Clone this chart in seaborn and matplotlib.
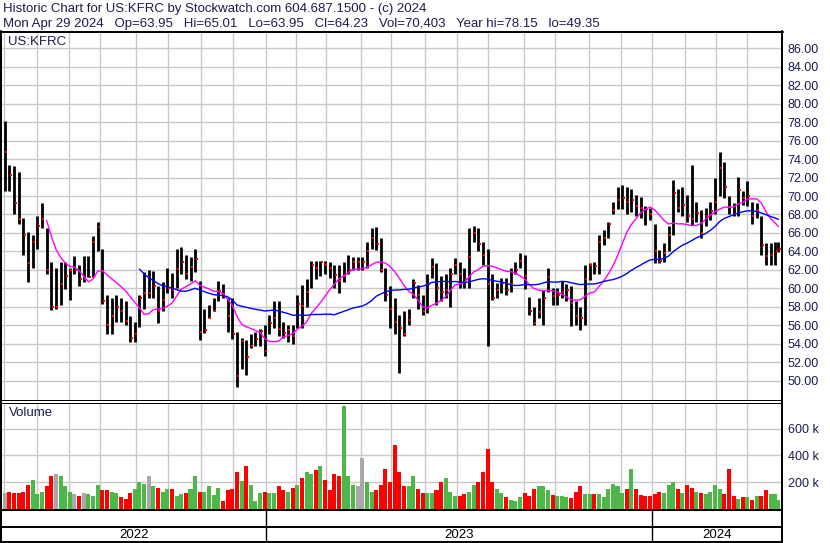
import numpy as np
import pandas as pd
import matplotlib
matplotlib.use("Agg")
import matplotlib.pyplot as plt
from matplotlib.lines import Line2D
import seaborn as sns

sns.set_style("white")
plt.rcParams['font.family'] = ['Liberation Sans', 'DejaVu Sans']

# ---------------- data (each bar summarises 3 trading sessions) ----------------
title_1 = "Historic Chart for US:KFRC by Stockwatch.com 604.687.1500 - (c) 2024"
title_2 = ("Mon Apr 29 2024   Op=63.95   Hi=65.01   Lo=63.95   Cl=64.23   "
           "Vol=70,403   Year hi=78.15   lo=49.35")
symbol = "US:KFRC"
start_date, end_date = "2022-04-29", "2024-04-29"
market_holidays = ["2022-05-30", "2022-06-20", "2022-07-04", "2022-09-05", "2022-11-24",
                   "2022-12-26", "2023-01-02", "2023-01-16", "2023-02-20", "2023-04-07",
                   "2023-05-29", "2023-06-19", "2023-07-04", "2023-09-04", "2023-11-23",
                   "2023-12-25", "2024-01-01", "2024-01-15", "2024-02-19", "2024-03-29"]
sessions_per_bar = 3

high = [78.1, 73.4, 73.2, 72.6, 67.6, 66.1, 65.8, 67.8, 69.2, 66.5,
        62.9, 62.2, 62.9, 62.9, 62.2, 63.5, 62.5, 63.5, 63.5, 65.7,
        67.2, 64.3, 59.3, 59.0, 59.3, 59.0, 58.6, 57.0, 56.4, 59.3,
        61.8, 62.0, 61.9, 60.2, 60.7, 62.2, 61.7, 64.3, 64.5, 63.6,
        63.4, 64.3, 60.8, 57.8, 58.2, 58.9, 60.8, 60.5, 59.0, 59.0,
        55.3, 54.6, 54.4, 55.1, 55.3, 55.6, 56.0, 57.1, 58.6, 58.6,
        56.4, 56.0, 56.0, 59.3, 60.4, 61.0, 63.0, 63.0, 63.0, 63.0,
        62.9, 62.5, 62.5, 62.9, 63.6, 63.4, 63.4, 63.4, 65.0, 66.5,
        66.6, 65.4, 62.2, 60.2, 58.9, 57.1, 57.5, 57.8, 61.0, 60.4,
        59.3, 61.5, 63.3, 62.7, 61.3, 61.5, 62.2, 63.3, 62.9, 62.2,
        66.5, 66.7, 66.5, 65.0, 64.3, 61.5, 60.6, 61.1, 61.1, 62.2,
        62.9, 63.8, 63.6, 59.1, 58.0, 58.9, 59.8, 62.2, 60.0, 60.0,
        60.8, 60.5, 60.2, 58.6, 58.0, 62.5, 62.7, 62.9, 65.8, 66.3,
        67.2, 69.4, 71.0, 71.2, 71.0, 70.8, 70.1, 69.9, 68.9, 68.7,
        67.0, 64.2, 64.9, 66.7, 71.7, 70.8, 71.0, 70.1, 73.4, 69.4,
        68.5, 68.7, 69.3, 72.0, 74.8, 73.7, 70.0, 69.2, 72.1, 70.5,
        71.6, 69.4, 69.2, 67.8, 64.9, 64.9, 65.0, 65.01]
low = [70.5, 70.5, 68.0, 67.0, 63.6, 60.7, 62.2, 64.3, 66.5, 61.5,
       57.7, 57.8, 58.2, 59.9, 58.7, 61.5, 60.2, 60.7, 61.2, 61.2,
       64.0, 58.3, 55.0, 55.0, 56.4, 56.4, 56.0, 54.2, 54.2, 55.8,
       57.8, 59.0, 58.9, 56.2, 57.5, 59.5, 59.0, 60.0, 61.5, 61.0,
       60.8, 61.8, 54.4, 55.2, 56.8, 57.5, 58.6, 58.9, 55.3, 54.5,
       49.35, 51.3, 50.6, 53.5, 53.7, 53.8, 52.7, 55.0, 55.7, 54.8,
       54.6, 54.2, 54.0, 55.7, 55.7, 58.0, 60.0, 61.0, 61.3, 61.6,
       61.1, 60.0, 59.5, 60.7, 61.5, 62.0, 62.0, 62.0, 62.2, 64.3,
       64.2, 61.8, 58.6, 55.7, 55.0, 50.8, 54.8, 56.0, 58.9, 57.8,
       57.1, 57.3, 61.1, 58.2, 58.6, 58.9, 58.0, 61.5, 60.0, 60.0,
       60.0, 65.0, 64.0, 62.5, 53.7, 58.7, 58.9, 59.5, 59.3, 59.6,
       61.5, 62.2, 59.9, 57.1, 56.0, 56.8, 56.0, 59.6, 58.2, 58.2,
       58.9, 58.6, 55.9, 56.0, 55.5, 56.0, 60.9, 61.5, 61.5, 64.7,
       65.4, 68.0, 68.6, 68.6, 68.1, 68.3, 67.8, 67.6, 66.9, 67.4,
       62.7, 62.7, 62.9, 64.0, 65.8, 68.3, 67.8, 67.2, 66.9, 67.2,
       65.4, 66.7, 67.4, 68.0, 70.0, 69.8, 68.0, 67.8, 67.8, 69.0,
       68.9, 67.0, 67.6, 63.6, 62.5, 62.5, 62.5, 63.95]
close = [74.8, 72.3, 69.2, 67.5, 65.8, 62.7, 65.0, 66.7, 67.5, 62.0,
         58.0, 58.0, 60.5, 61.3, 62.0, 62.0, 61.0, 61.0, 61.2, 65.0,
         66.6, 58.6, 56.0, 57.0, 58.0, 57.5, 56.5, 54.6, 55.0, 59.0,
         59.5, 59.5, 60.3, 57.5, 58.7, 60.0, 59.8, 62.1, 62.8, 61.5,
         62.3, 63.2, 55.3, 55.5, 56.8, 57.5, 59.7, 59.4, 57.0, 55.0,
         50.5, 54.3, 52.6, 53.7, 54.5, 55.4, 53.2, 56.2, 56.8, 55.6,
         55.2, 55.5, 54.8, 58.3, 58.1, 59.6, 62.5, 62.2, 62.8, 62.5,
         62.2, 61.4, 60.8, 61.3, 62.0, 62.8, 62.8, 62.8, 64.0, 65.4,
         64.8, 62.0, 59.3, 57.8, 56.3, 55.7, 55.0, 56.6, 60.6, 59.3,
         57.5, 60.5, 62.3, 60.0, 59.6, 59.8, 61.6, 62.5, 61.5, 61.0,
         63.4, 66.0, 64.8, 63.6, 60.5, 59.0, 59.8, 60.6, 59.8, 60.5,
         62.0, 63.0, 61.3, 57.5, 56.2, 57.4, 59.0, 61.2, 59.2, 59.3,
         59.6, 59.8, 58.4, 57.0, 56.8, 61.0, 62.5, 62.4, 65.0, 65.5,
         67.0, 68.5, 69.6, 69.8, 69.3, 69.6, 68.9, 68.7, 68.6, 68.0,
         64.0, 63.0, 63.8, 65.8, 70.3, 68.7, 69.0, 67.8, 67.5, 68.2,
         66.0, 67.8, 68.4, 69.3, 73.0, 71.0, 68.8, 68.1, 70.7, 69.8,
         70.0, 67.8, 68.5, 64.7, 63.5, 63.6, 64.0, 64.23]
volume_k = [120, 130, 120, 120, 130, 180, 220, 110, 130, 170,
            250, 260, 250, 170, 130, 110, 100, 120, 110, 100,
            180, 140, 140, 130, 120, 90, 75, 120, 150, 200,
            190, 250, 170, 160, 130, 150, 150, 100, 110, 120,
            150, 250, 130, 130, 170, 105, 160, 60, 140, 150,
            280, 210, 320, 180, 60, 120, 130, 120, 120, 170,
            140, 130, 160, 180, 230, 280, 260, 290, 320, 220,
            140, 260, 250, 770, 250, 180, 170, 380, 200, 130,
            140, 180, 300, 200, 480, 280, 170, 170, 250, 150,
            120, 120, 120, 140, 200, 230, 130, 100, 100, 110,
            130, 180, 200, 280, 450, 200, 150, 120, 90, 65,
            60, 90, 120, 100, 150, 170, 170, 140, 105, 100,
            95, 90, 80, 130, 170, 110, 110, 110, 110, 90,
            150, 190, 170, 120, 150, 300, 150, 105, 100, 95,
            110, 130, 120, 180, 200, 150, 120, 180, 160, 130,
            120, 110, 130, 180, 150, 110, 300, 100, 75, 90,
            90, 70, 95, 95, 140, 110, 110, 70]
ma_short_sessions, ma_long_sessions = 30, 90
price_ticks = list(range(50, 87, 2))
volume_ticks = [200, 400, 600]

# ---------------- derived ----------------
days = pd.date_range(start_date, end_date,
                     freq=pd.offsets.CustomBusinessDay(holidays=pd.to_datetime(market_holidays)))
n_days = len(days)
nb = len(close)
pos = np.minimum(np.arange(nb) * sessions_per_bar + 1, n_days - 1)
df = pd.DataFrame({"x": pos, "high": high, "low": low, "close": close,
                   "vol": np.array(volume_k) * 1000.0})
df["ma_s"] = df["close"].rolling(ma_short_sessions // sessions_per_bar).mean()
df["ma_l"] = df["close"].rolling(ma_long_sessions // sessions_per_bar).mean()
chg = df["close"].diff().fillna(0)
vcol = np.where(chg > 0, "#4db848", np.where(chg < 0, "#ff0000", "#a8a8a8"))

month_starts = [i for i in range(1, n_days) if days[i].month != days[i - 1].month]
year_starts = [i for i in range(1, n_days) if days[i].year != days[i - 1].year]

# ---------------- figure ----------------
W, H = 830, 543
fig = plt.figure(figsize=(W / 100, H / 100), dpi=100)
fig.patch.set_facecolor("white")


def box(x0, y0, x1, y1):
    return [x0 / W, 1 - y1 / H, (x1 - x0) / W, (y1 - y0) / H]


XL, XR = 2, 781.5
ax_p = fig.add_axes(box(XL, 32, XR, 400))
ax_v = fig.add_axes(box(XL, 402.5, XR, 509))
ax_d = fig.add_axes(box(XL, 509, XR, 541))
xlim = (-0.84, 503.0)
txt = "#1c1c50"
grid_c = "#c8c8c8"

for a in (ax_p, ax_v, ax_d):
    a.set_xlim(*xlim)
    for s in a.spines.values():
        s.set_visible(False)
    a.set_xticks([])
    a.set_facecolor("white")

# price panel
ax_p.set_ylim(47.9, 87.77)
for t in price_ticks:
    ax_p.axhline(t, color=grid_c, lw=1.0, zorder=0)
for m in month_starts:
    ax_p.axvline(m - 0.5, color=grid_c, lw=1.0, zorder=0)
    ax_v.axvline(m - 0.5, color=grid_c, lw=1.0, zorder=0)
ax_p.vlines(df["x"], df["low"], df["high"], color="black", lw=2.0, zorder=2)
sns.scatterplot(data=df, x=df["x"] + 0.9, y="close", marker="s", s=4, color="#ff0000",
                linewidth=0, ax=ax_p, zorder=3, legend=False)
sns.lineplot(data=df, x="x", y="ma_s", color="#ff00ff", lw=1.0, ax=ax_p, zorder=4)
sns.lineplot(data=df, x="x", y="ma_l", color="#0000ff", lw=1.0, ax=ax_p, zorder=4)
ax_p.set_yticks(price_ticks)
ax_p.set_yticklabels([f"{t:.2f}" for t in price_ticks])
ax_p.yaxis.tick_right()
ax_p.tick_params(axis="y", length=0, pad=4.5, labelsize=9, labelcolor=txt)
ax_p.set_xlabel("")
ax_p.set_ylabel("")
ax_p.text(0.008, 0.973, symbol, transform=ax_p.transAxes,
          fontsize=9.5, color=txt, va="center", ha="left")

# volume panel
ax_v.set_ylim(0, 796000)
for t in volume_ticks:
    ax_v.axhline(t * 1000, color=grid_c, lw=1.0, zorder=0)
ax_v.bar(df["x"], df["vol"], width=2.6, color=vcol, linewidth=0, zorder=2)
ax_v.set_yticks([t * 1000 for t in volume_ticks])
ax_v.set_yticklabels([f"{t} k" for t in volume_ticks])
ax_v.yaxis.tick_right()
ax_v.tick_params(axis="y", length=0, pad=4.5, labelsize=9, labelcolor=txt)
ax_v.text(0.009, 0.9, "Volume", transform=ax_v.transAxes, fontsize=9.5, color=txt,
          va="center", ha="left")

# date strip
ax_d.set_ylim(0, 1)
ax_d.set_yticks([])
edges = [xlim[0]] + [y - 0.5 for y in year_starts] + [xlim[1]]
for y in year_starts:
    ax_d.axvline(y - 0.5, color="black", lw=1.0)
for k in range(len(edges) - 1):
    yr = days[0].year + k
    ax_d.text((edges[k] + edges[k + 1]) / 2, 0.2, str(yr), ha="center", va="center",
              fontsize=9.5, color="black")


def hline(y, x0, x1, px):
    fig.add_artist(Line2D([x0 / W, x1 / W], [1 - y / H, 1 - y / H], color="black",
                          lw=px * 0.72, transform=fig.transFigure))


def vline(x, y0, y1, px):
    fig.add_artist(Line2D([x / W, x / W], [1 - y0 / H, 1 - y1 / H], color="black",
                          lw=px * 0.72, transform=fig.transFigure))


hline(31.5, 0, 783, 2)
hline(400, 0, 782, 1)
hline(402.5, 0, 782, 1)
hline(509.5, 0, 782, 2)
hline(527, 0, 782, 2)
hline(541.5, 0, 782, 2)
vline(1, 31, 542, 2)
vline(782, 31, 543, 2)

fig.text(3 / W, 1 - 12 / H, title_1, fontsize=9.5, color=txt, va="baseline", ha="left")
fig.text(3 / W, 1 - 27 / H, title_2, fontsize=9.5, color=txt, va="baseline", ha="left")

fig.savefig("out.png", dpi=100, facecolor="white")
